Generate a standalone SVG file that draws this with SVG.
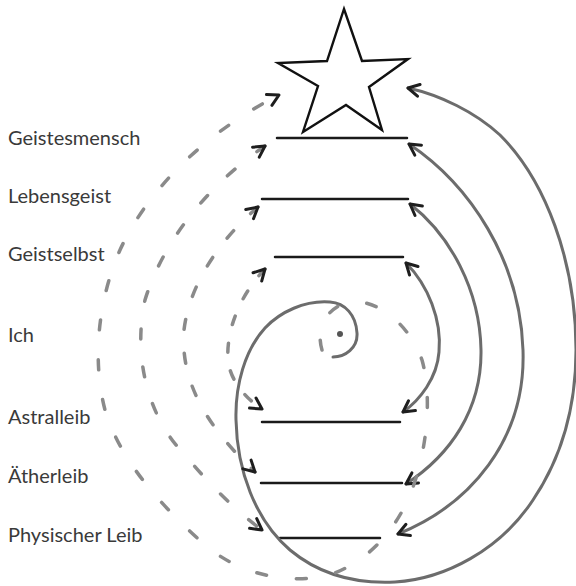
<svg xmlns="http://www.w3.org/2000/svg" width="576" height="586" viewBox="0 0 576 586">
<defs>
<style>
.lbl{font-family:Lato,"Open Sans","Liberation Sans",sans-serif;font-size:20px;font-weight:400;fill:#3a3a3a}
.lvl{stroke:#1a1a1a;stroke-width:2.5;fill:none;stroke-linecap:round}
.solid{stroke:#6c6c6c;stroke-width:3;fill:none;stroke-linecap:round}
.dash{stroke:#8a8a8a;stroke-width:3.5;fill:none;stroke-linecap:round}
</style>
<marker id="ah" viewBox="-13 -8 15 16" refX="0" refY="0" markerWidth="15" markerHeight="16" markerUnits="userSpaceOnUse" orient="auto-start-reverse">
<path d="M-11,-6 L0,0 L-11,6" fill="none" stroke="#1e1e1e" stroke-width="3" stroke-linecap="round" stroke-linejoin="round"/>
</marker>
</defs>
<rect width="576" height="586" fill="#ffffff"/>

<g id="star">
<polygon points="344,9 362,61 408,59 369,87 382,130 346,105 303,132 318,86 278,63 327,61" fill="none" stroke="#111" stroke-width="2.4" stroke-linejoin="miter"/>
</g>
<g id="geistesmensch"><line class="lvl" x1="277" y1="138" x2="407" y2="138"/><text class="lbl" x="8" y="145">Geistesmensch</text></g>
<g id="lebensgeist"><line class="lvl" x1="262" y1="199" x2="408" y2="199"/><text class="lbl" x="8" y="203">Lebensgeist</text></g>
<g id="geistselbst"><line class="lvl" x1="275" y1="257" x2="403" y2="257"/><text class="lbl" x="8" y="261">Geistselbst</text></g>
<g id="ich"><circle cx="340" cy="334" r="3" fill="#555"/><text class="lbl" x="8" y="342">Ich</text></g>
<g id="astralleib"><line class="lvl" x1="262" y1="422" x2="400" y2="422"/><text class="lbl" x="8" y="424">Astralleib</text></g>
<g id="aetherleib"><line class="lvl" x1="261" y1="483" x2="402" y2="483"/><text class="lbl" x="8" y="483">Ätherleib</text></g>
<g id="physischer-leib"><line class="lvl" x1="280" y1="538" x2="380" y2="538"/><text class="lbl" x="8" y="542">Physischer Leib</text></g>

<g id="connectors">
<!-- solid arcs on the right -->
<path class="solid" d="M406,263 C428,285 442,320 439,352 C437,378 420,400 403,412" marker-start="url(#ah)" marker-end="url(#ah)"/>
<path class="solid" d="M410,204 C450,235 480,290 481,350 C482,410 450,455 406,484" marker-start="url(#ah)" marker-end="url(#ah)"/>
<path class="solid" d="M409,144 C470,185 520,260 523,350 C526,440 470,505 398,534" marker-start="url(#ah)" marker-end="url(#ah)"/>
<path class="solid" d="M333,357 C345,357 358,348 357,333 C356,315 345,303 330,302 C305,300 280,312 265,328 C245,350 235,385 236,420 C237,470 255,520 290,550 C320,575 355,584 395,582 C445,579 500,550 533,500 C560,460 576,410 576,350 C576,260 545,180 500,135 C475,112 440,95 408,88" marker-end="url(#ah)"/>
<!-- dashed arcs on the left -->
<path class="dash" stroke-dasharray="9 19" d="M265,269 C240,295 226,330 228,360 C230,380 245,398 262,409" marker-start="url(#ah)" marker-end="url(#ah)"/>
<path class="dash" stroke-dasharray="10 24" d="M258,207 C225,235 190,280 184,330 C180,380 205,425 255,472" marker-start="url(#ah)" marker-end="url(#ah)"/>
<path class="dash" stroke-dasharray="10 28" d="M265,146 C215,180 165,235 145,300 C132,360 150,420 185,455 C210,485 235,510 262,530" marker-start="url(#ah)" marker-end="url(#ah)"/>
<path class="dash" stroke-dasharray="10 30" d="M322,350 C316,330 325,310 345,303 C375,295 410,325 422,360 C432,395 428,450 410,495 C395,530 370,560 330,575 C290,585 240,575 205,545 C160,505 120,460 105,410 C92,360 98,300 120,250 C145,195 200,135 279,95" marker-end="url(#ah)"/>
</g>
</svg>
